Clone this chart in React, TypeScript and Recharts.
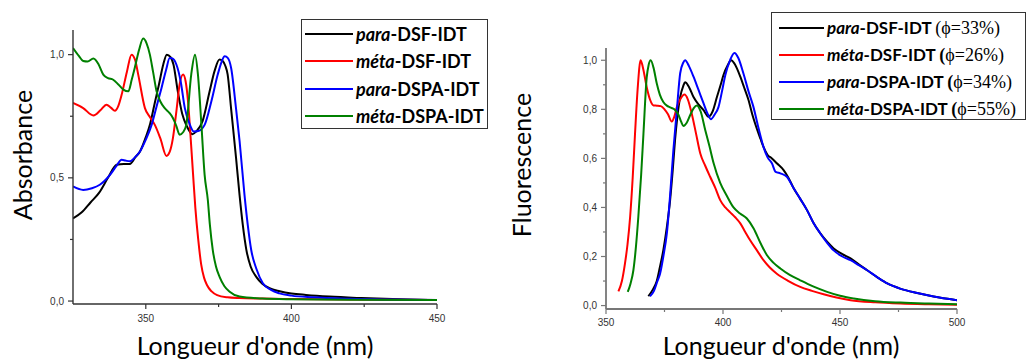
import { LineChart, Line, XAxis, YAxis } from "recharts";

// ---- absorption (left) ----
const absParaDsfNm = [325, 328, 331, 334, 337, 340, 342.5, 344.5, 346.5, 348, 350, 351.5, 353, 354.5, 356, 357.2, 358.5, 359.5, 361, 362.5, 364, 366, 367.3, 369.5, 371.9, 373.6, 375.3, 376.4, 377.3, 378.1, 379.3, 381, 382.2, 383.3, 384.5, 386, 388, 390, 392.5, 396, 400, 405, 413, 424, 440, 450];
const absParaDsf = [0.335, 0.36, 0.4, 0.44, 0.5, 0.553, 0.556, 0.556, 0.585, 0.607, 0.665, 0.72, 0.8, 0.878, 0.96, 1.0, 0.99, 0.96, 0.85, 0.76, 0.712, 0.677, 0.688, 0.73, 0.85, 0.933, 0.98, 0.974, 0.955, 0.92, 0.78, 0.58, 0.43, 0.31, 0.21, 0.14, 0.097, 0.07, 0.052, 0.04, 0.031, 0.025, 0.018, 0.012, 0.006, 0.004];

const absMetaDsfNm = [325, 328.5, 332, 334.5, 336.5, 338, 339.4, 340.5, 341.7, 343.5, 345.1, 346.3, 347.4, 349.7, 351.5, 353.1, 355, 357.1, 358.2, 359.3, 360.5, 361.6, 362.8, 363.7, 364.5, 365.3, 366.2, 367, 368, 369, 370, 371, 372.5, 374.5, 378, 382, 390, 400, 420, 450];
const absMetaDsf = [0.804, 0.783, 0.753, 0.775, 0.797, 0.785, 0.772, 0.79, 0.837, 0.93, 1.0, 0.98, 0.919, 0.783, 0.745, 0.715, 0.66, 0.589, 0.605, 0.66, 0.77, 0.878, 0.919, 0.89, 0.81, 0.68, 0.52, 0.38, 0.25, 0.15, 0.095, 0.065, 0.04, 0.024, 0.015, 0.012, 0.01, 0.008, 0.006, 0.004];

const absParaDspaNm = [325, 328.5, 331.5, 334.2, 337.7, 340, 341.7, 343, 344.5, 346, 348, 350, 352, 353.7, 355.4, 357, 358.2, 359, 360.5, 362, 363.4, 365, 366.5, 368, 370.2, 372.5, 374.7, 376, 377.1, 378.2, 379.3, 381, 382.2, 383.9, 385, 386.2, 388, 390.2, 393, 395.9, 400, 407.3, 420, 435, 450];
const absParaDspa = [0.465, 0.451, 0.458, 0.472, 0.512, 0.55, 0.573, 0.57, 0.567, 0.58, 0.607, 0.655, 0.715, 0.79, 0.865, 0.94, 0.986, 0.985, 0.96, 0.89, 0.783, 0.72, 0.688, 0.69, 0.715, 0.81, 0.919, 0.97, 0.993, 0.986, 0.946, 0.78, 0.65, 0.43, 0.31, 0.207, 0.13, 0.072, 0.045, 0.031, 0.022, 0.015, 0.009, 0.006, 0.004];

const absMetaDspaNm = [325, 327, 328.5, 330, 332, 333.8, 335.4, 337, 338.8, 340.5, 342.3, 344, 345.2, 346.2, 347.7, 349.1, 350.3, 351.4, 352.5, 353.7, 355, 356.5, 358, 359.3, 360.5, 361.6, 362.8, 363.9, 365.6, 366.9, 367.9, 369.1, 370.2, 371.3, 372, 373, 374.1, 375.3, 377, 378.8, 382.2, 390, 400, 420, 450];
const absMetaDspa = [1.027, 0.995, 0.974, 0.972, 0.984, 0.96, 0.919, 0.905, 0.898, 0.88, 0.858, 0.851, 0.9, 0.946, 1.02, 1.065, 1.045, 1.0, 0.93, 0.851, 0.81, 0.783, 0.765, 0.743, 0.71, 0.675, 0.685, 0.715, 0.919, 1.0, 0.92, 0.715, 0.512, 0.41, 0.31, 0.207, 0.14, 0.099, 0.06, 0.038, 0.018, 0.01, 0.007, 0.005, 0.004];

// ---- fluorescence (right) ----
const flParaDsfNm = [368.1, 370, 371.7, 373, 374.5, 376, 377.4, 378.5, 379.5, 380.5, 381.7, 383, 383.8, 385.5, 387.4, 389.5, 391.7, 393.8, 395.5, 397.4, 399, 400.2, 402, 403.5, 405, 407.4, 409, 410.9, 412.5, 414.5, 416, 417.3, 419, 420.9, 423, 425.9, 428, 430.2, 433, 435.9, 438.5, 441.6, 444.5, 447.3, 451, 454.5, 458, 461.6, 466, 470.2, 476, 483, 490, 500];
const flParaDsf = [0.038, 0.065, 0.1, 0.155, 0.226, 0.32, 0.43, 0.55, 0.674, 0.77, 0.85, 0.895, 0.91, 0.89, 0.85, 0.82, 0.797, 0.77, 0.79, 0.85, 0.9, 0.94, 0.98, 1.0, 0.985, 0.933, 0.89, 0.838, 0.78, 0.72, 0.68, 0.647, 0.615, 0.6, 0.58, 0.552, 0.52, 0.478, 0.435, 0.389, 0.34, 0.294, 0.26, 0.233, 0.21, 0.192, 0.168, 0.144, 0.115, 0.09, 0.068, 0.051, 0.037, 0.022];

const flMetaDsfNm = [355.3, 356.8, 358.1, 359.2, 360.3, 361.4, 362.4, 363.5, 364.8, 366, 367.4, 368.8, 370.3, 371.8, 373.4, 375, 376.5, 378.1, 379.2, 380.3, 382, 383.5, 385, 386.7, 388.5, 390.3, 392.4, 394.5, 396.7, 398.8, 401, 403.1, 405.2, 407.4, 409.5, 411.6, 414.5, 417.3, 420, 423, 428, 433, 438, 443, 448.5, 454.5, 465, 475.9, 488, 500];
const flMetaDsf = [0.058, 0.1, 0.171, 0.25, 0.36, 0.52, 0.7, 0.88, 1.0, 0.96, 0.89, 0.84, 0.816, 0.815, 0.813, 0.8, 0.78, 0.75, 0.77, 0.81, 0.845, 0.86, 0.84, 0.78, 0.7, 0.62, 0.57, 0.525, 0.48, 0.43, 0.4, 0.38, 0.36, 0.335, 0.3, 0.266, 0.225, 0.185, 0.155, 0.13, 0.1, 0.076, 0.06, 0.046, 0.033, 0.022, 0.013, 0.008, 0.005, 0.003];

const flParaDspaNm = [368.8, 370.5, 372, 373.1, 374.5, 376, 377.4, 378.8, 380.3, 381.7, 383, 383.8, 385.5, 387.4, 389.5, 391.7, 393.5, 394.8, 396.5, 398.1, 399.5, 401, 403, 404.9, 406.5, 408.7, 411, 413, 415, 417.3, 419, 420.9, 422.5, 424.5, 427.3, 430.2, 433, 435.9, 438.5, 441.6, 444.5, 447.3, 451, 454.5, 458, 461.6, 466, 470.2, 476, 483, 490, 500];
const flParaDspa = [0.038, 0.06, 0.1, 0.13, 0.2, 0.294, 0.45, 0.634, 0.8, 0.947, 0.99, 1.0, 0.975, 0.933, 0.88, 0.824, 0.78, 0.76, 0.78, 0.81, 0.87, 0.94, 1.0, 1.03, 1.01, 0.947, 0.87, 0.81, 0.73, 0.647, 0.605, 0.58, 0.545, 0.539, 0.525, 0.478, 0.435, 0.389, 0.34, 0.294, 0.256, 0.225, 0.2, 0.185, 0.165, 0.144, 0.115, 0.09, 0.068, 0.051, 0.037, 0.022];

const flMetaDspaNm = [359.3, 360.5, 361.7, 362.8, 363.8, 365, 366, 367.4, 368.2, 369.1, 370.3, 371.7, 373, 374.5, 376, 377.4, 379.2, 381, 382.1, 383.1, 384.5, 386, 387.5, 388.8, 390.5, 392.4, 394.2, 396, 398.8, 401.5, 404.5, 407.3, 410.2, 413.1, 416, 418.8, 421.5, 424.5, 428.5, 433, 438.5, 444.5, 450, 455.9, 465, 475.9, 488, 500];
const flMetaDspa = [0.056, 0.09, 0.144, 0.24, 0.36, 0.53, 0.7, 0.93, 0.98, 1.0, 0.97, 0.905, 0.86, 0.83, 0.815, 0.808, 0.8, 0.777, 0.75, 0.732, 0.745, 0.777, 0.805, 0.816, 0.79, 0.716, 0.65, 0.58, 0.5, 0.45, 0.4, 0.375, 0.355, 0.314, 0.255, 0.205, 0.175, 0.151, 0.125, 0.103, 0.078, 0.056, 0.04, 0.029, 0.018, 0.012, 0.008, 0.005];

// ---- legend / ticks ----
const seriesPrefix = ["para", "méta", "para", "méta"];
const seriesSuffix = ["-DSF-IDT", "-DSF-IDT", "-DSPA-IDT", "-DSPA-IDT"];
const quantumYield = ["33%", "26%", "34%", "55%"];
const seriesColors = ["#000000", "#ff0000", "#0000ff", "#008000"];

const absXTicks = [350, 375, 400, 425, 450];
const absXLabels = [350, 400, 450];
const absYTicks = [0, 0.25, 0.5, 0.75, 1.0];
const absYLabels = [0, 0.5, 1.0];
const flXTicks = [350, 375, 400, 425, 450, 475, 500];
const flXLabels = [350, 400, 450, 500];
const flYTicks = [0, 0.1, 0.2, 0.3, 0.4, 0.5, 0.6, 0.7, 0.8, 0.9, 1.0];
const flYLabels = [0, 0.2, 0.4, 0.6, 0.8, 1.0];

const zip = (xs: number[], ys: number[]) => xs.map((x, i) => ({ x, y: ys[i] }));

const absSeries = [
  zip(absParaDsfNm, absParaDsf),
  zip(absMetaDsfNm, absMetaDsf),
  zip(absParaDspaNm, absParaDspa),
  zip(absMetaDspaNm, absMetaDspa),
];
const flSeries = [
  zip(flParaDsfNm, flParaDsf),
  zip(flMetaDsfNm, flMetaDsf),
  zip(flParaDspaNm, flParaDspa),
  zip(flMetaDspaNm, flMetaDspa),
];

const has = (arr: number[], v: number) => arr.some((a) => Math.abs(a - v) < 1e-6);
const comma = (v: number) => v.toFixed(1).replace(".", ",");

const tickFont = "'Liberation Sans', Arial, sans-serif";
const titleFont = "Lato, 'Noto Sans', sans-serif";

const makeYTick = (labels: number[], color: string) => (props: any) => {
  const { x, y, payload } = props;
  const major = has(labels, payload.value);
  return (
    <g>
      <line x1={x} x2={x - (major ? 5 : 3)} y1={y} y2={y} stroke={color} strokeWidth={1.2} />
      {major && (
        <text x={x - 9} y={y} dy={3.5} textAnchor="end" fontSize={10} fill="#333" fontFamily={tickFont}>
          {comma(payload.value)}
        </text>
      )}
    </g>
  );
};

const makeXTick = (labels: number[], color: string, dy: number) => (props: any) => {
  const { x, y, payload } = props;
  const major = has(labels, payload.value);
  return (
    <g>
      <line x1={x} x2={x} y1={y} y2={y + (major ? 5 : 3)} stroke={color} strokeWidth={1.2} />
      {major && (
        <text x={x} y={y + dy} textAnchor="middle" fontSize={10} fill="#333" fontFamily={tickFont}>
          {payload.value}
        </text>
      )}
    </g>
  );
};

const LegendBox = ({ left, top, width, height, rowTop, rowGap, lineX, lineW, textX, fontSize, withYield }: any) => (
  <div
    style={{
      position: "absolute",
      left,
      top,
      width,
      height,
      border: "1px solid #333",
      background: "#fff",
      boxSizing: "border-box",
    }}
  >
    {seriesPrefix.map((p, i) => (
      <div key={i} style={{ position: "absolute", left: 0, top: rowTop + i * rowGap - 12, height: 24, width: "100%" }}>
        <div style={{ position: "absolute", left: lineX, top: 11, width: lineW, height: 2, background: seriesColors[i] }} />
        <div
          style={{
            position: "absolute",
            left: textX,
            top: 0,
            lineHeight: "24px",
            whiteSpace: "nowrap",
            fontFamily: titleFont,
            fontWeight: 700,
            fontSize,
            color: "#000",
          }}
        >
          <i>{p}</i>
          {seriesSuffix[i]}
          {withYield && (
            <span>
              {" "}
              <span style={{ fontFamily: "'Liberation Serif', serif", fontWeight: i === 0 ? 400 : 700, fontSize: 18 }}>(</span>
              <span style={{ fontFamily: "'Liberation Serif', serif", fontWeight: 400, fontSize: 18 }}>
                ϕ={quantumYield[i]})
              </span>
            </span>
          )}
        </div>
      </div>
    ))}
  </div>
);

const App = () => {
  return (
    <div style={{ position: "absolute", left: 0, top: 0, width: 1027, height: 360, background: "#fff", overflow: "hidden" }}>
      {/* absorption */}
      <div style={{ position: "absolute", left: 0, top: 0 }}>
        <LineChart width={500} height={360} margin={{ top: 30, right: 63, bottom: 26, left: 33 }}>
          <XAxis
            dataKey="x"
            type="number"
            domain={[325, 450]}
            ticks={absXTicks}
            allowDataOverflow
            height={30}
            tickSize={0}
            tickMargin={0}
            tickLine={false}
            axisLine={{ stroke: "#333", strokeWidth: 1.4 }}
            tick={makeXTick(absXLabels, "#333", 18)}
            interval={0}
          />
          <YAxis
            type="number"
            domain={[-0.012, 1.1]}
            ticks={absYTicks}
            allowDataOverflow
            width={40}
            tickSize={0}
            tickMargin={0}
            tickLine={false}
            axisLine={{ stroke: "#333", strokeWidth: 1.4 }}
            tick={makeYTick(absYLabels, "#333")}
            interval={0}
          />
          {absSeries.map((d, i) => (
            <Line
              key={i}
              data={d}
              dataKey="y"
              type="monotone"
              stroke={seriesColors[i]}
              strokeWidth={2}
              dot={false}
              isAnimationActive={false}
            />
          ))}
        </LineChart>
      </div>

      {/* fluorescence */}
      <div style={{ position: "absolute", left: 500, top: 0 }}>
        <LineChart width={527} height={360} margin={{ top: 48, right: 70, bottom: 21, left: 66 }}>
          <XAxis
            dataKey="x"
            type="number"
            domain={[350, 500]}
            ticks={flXTicks}
            allowDataOverflow
            height={30}
            tickSize={0}
            tickMargin={0}
            tickLine={false}
            axisLine={{ stroke: "#777", strokeWidth: 1.8 }}
            tick={makeXTick(flXLabels, "#777", 16.5)}
            interval={0}
          />
          <YAxis
            type="number"
            domain={[-0.014, 1.05]}
            ticks={flYTicks}
            allowDataOverflow
            width={40}
            tickSize={0}
            tickMargin={0}
            tickLine={false}
            axisLine={{ stroke: "#777", strokeWidth: 1.8 }}
            tick={makeYTick(flYLabels, "#777")}
            interval={0}
          />
          {flSeries.map((d, i) => (
            <Line
              key={i}
              data={d}
              dataKey="y"
              type="monotone"
              stroke={seriesColors[i]}
              strokeWidth={2}
              dot={false}
              isAnimationActive={false}
            />
          ))}
        </LineChart>
      </div>

      {/* axis titles */}
      <div
        style={{
          position: "absolute",
          left: 22,
          top: 155,
          transform: "translate(-50%, -50%) rotate(-90deg)",
          fontFamily: titleFont,
          fontSize: 25,
          whiteSpace: "nowrap",
        }}
      >
        Absorbance
      </div>
      <div
        style={{
          position: "absolute",
          left: 521,
          top: 165,
          transform: "translate(-50%, -50%) rotate(-90deg)",
          fontFamily: titleFont,
          fontSize: 25,
          whiteSpace: "nowrap",
        }}
      >
        Fluorescence
      </div>
      <div
        style={{
          position: "absolute",
          left: 255,
          top: 330,
          transform: "translateX(-50%)",
          fontFamily: titleFont,
          fontSize: 25,
          whiteSpace: "nowrap",
          lineHeight: "30px",
        }}
      >
        Longueur d'onde (nm)
      </div>
      <div
        style={{
          position: "absolute",
          left: 781,
          top: 330,
          transform: "translateX(-50%)",
          fontFamily: titleFont,
          fontSize: 25,
          whiteSpace: "nowrap",
          lineHeight: "30px",
        }}
      >
        Longueur d'onde (nm)
      </div>

      <LegendBox left={301} top={19} width={187} height={110} rowTop={14} rowGap={27.3} lineX={3} lineW={48} textX={54} fontSize={18} withYield={false} />
      <LegendBox left={771} top={12} width={255} height={108} rowTop={15.3} rowGap={26.8} lineX={7} lineW={45} textX={55} fontSize={17} withYield={true} />
    </div>
  );
};

export default App;
